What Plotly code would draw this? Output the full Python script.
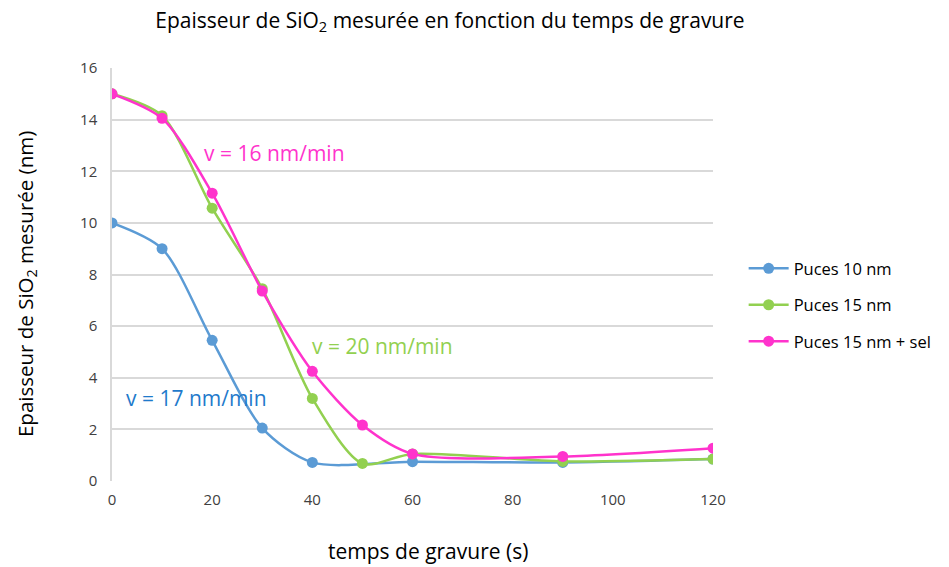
import plotly.graph_objects as go

temps = [0, 10, 20, 30, 40, 50, 60, 90, 120]
puces_10 = [10.0, 9.0, 5.45, 2.05, 0.72, None, 0.75, 0.72, 0.85]
puces_15 = [15.0, 14.15, 10.57, 7.45, 3.2, 0.68, 1.05, 0.76, 0.85]
puces_15_sel = [15.0, 14.05, 11.15, 7.36, 4.25, 2.17, 1.05, 0.95, 1.27]

series = [
    ("Puces 10 nm", puces_10, "#5B9BD5"),
    ("Puces 15 nm", puces_15, "#92D050"),
    ("Puces 15 nm + sel", puces_15_sel, "#FF33CC"),
]

FONT = "Open Sans, Liberation Sans, sans-serif"

fig = go.Figure()
for i, (name, vals, col) in enumerate(series):
    xs = [t for t, v in zip(temps, vals) if v is not None]
    ys = [v for v in vals if v is not None]
    fig.add_trace(go.Scatter(
        x=xs, y=ys, name=name, mode="lines+markers", legendgroup="g%d" % i,
        line=dict(color=col, width=2.5, shape="spline", smoothing=0.8),
        marker=dict(color=col, size=11),
    ))

annots = [
    ("v = 16 nm/min", 32.5, 12.7, "#FF33CC"),
    ("v = 20 nm/min", 54.0, 5.23, "#92D050"),
    ("v = 17 nm/min", 16.8, 3.2, "#1F7ACB"),
]
for txt, ax, ay, col in annots:
    fig.add_annotation(x=ax, y=ay, text=txt, showarrow=False,
                       font=dict(family=FONT, size=21, color=col))

# axis titles as annotations (placed like the reference)
fig.add_annotation(xref="paper", yref="paper", x=-0.144, y=0.478,
                   xanchor="center", yanchor="middle", textangle=-90, showarrow=False,
                   text="Epaisseur de SiO<sub>2</sub> mesurée (nm)",
                   font=dict(family=FONT, size=20.5, color="#000000"))
fig.add_annotation(xref="paper", yref="paper", x=0.526, y=-0.1695,
                   xanchor="center", yanchor="middle", showarrow=False,
                   text="temps de gravure (s)",
                   font=dict(family=FONT, size=21, color="#000000"))

fig.update_layout(
    width=941, height=559,
    paper_bgcolor="white", plot_bgcolor="white",
    margin=dict(l=104, r=236, t=60, b=86),
    font=dict(family=FONT, color="#404040"),
    title=dict(text="Epaisseur de SiO<sub>2</sub> mesurée en fonction du temps de gravure",
               x=0.4697, xanchor="center", y=0.978, yanchor="middle",
               font=dict(size=21, color="#000000")),
    legend=dict(x=1.051, y=0.426, xanchor="left", yanchor="middle",
                font=dict(size=16.5, color="#000000"), tracegroupgap=12,
                traceorder="grouped", itemwidth=40),
    showlegend=True,
)
fig.update_xaxes(range=[0, 120], tickvals=[0, 20, 40, 60, 80, 100, 120],
                 showgrid=False, zeroline=False, showline=False,
                 tickfont=dict(size=15, color="#404040"), ticklabelstandoff=8)
fig.update_yaxes(range=[0, 16], dtick=2, showgrid=True, gridcolor="#D9D9D9",
                 gridwidth=1.5, zeroline=False, showline=True, linecolor="#D9D9D9",
                 linewidth=1.5,
                 tickfont=dict(size=15, color="#404040"), ticklabelstandoff=10)

fig.write_html("out.html")
